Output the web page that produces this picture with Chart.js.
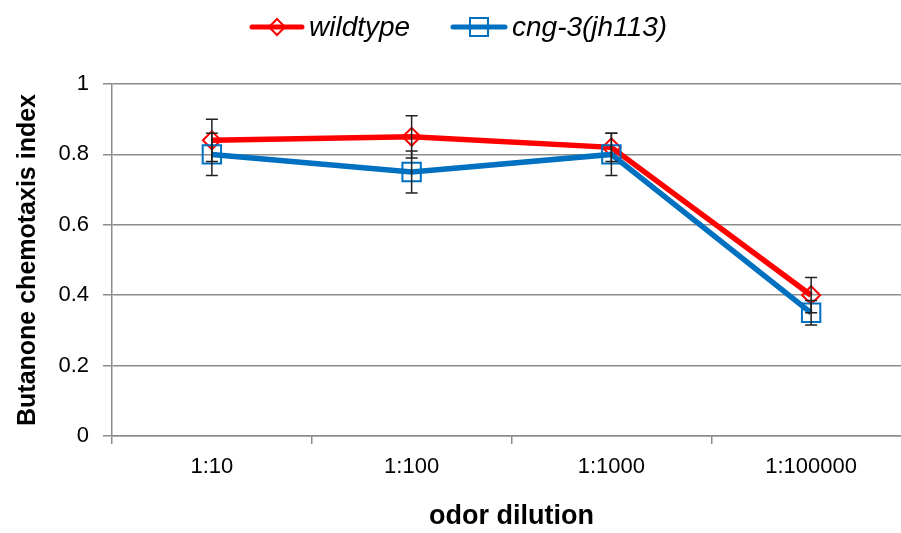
<!DOCTYPE html>
<html>
<head>
<meta charset="utf-8">
<script src="https://cdn.jsdelivr.net/npm/chart.js@4/dist/chart.umd.min.js"></script>
<style>
  html, body { margin: 0; padding: 0; background: #fff; overflow: hidden; width: 901px; height: 533px; }
  #wrap { position: relative; width: 926px; height: 533px; }
  #legend { position: absolute; top: 0; left: 0; width: 901px; height: 54px; font-family: "Liberation Sans", Arial, sans-serif; font-style: italic; font-size: 28px; color: #000; }
  #legend .item { position: absolute; top: 10px; display: flex; align-items: center; height: 34px; }
  #legend svg { margin-right: 4px; }
</style>
</head>
<body>
<div id="wrap">
  <canvas id="c" width="926" height="533"></canvas>
  <div id="legend"></div>
</div>
<script>
const categories = ["1:10", "1:100", "1:1000", "1:100000"];
const seriesNames = ["wildtype", "cng-3(jh113)"];
const wildtype = [0.84, 0.85, 0.82, 0.40];
const wildtypeErr = [0.06, 0.06, 0.04, 0.05];
const cng3 = [0.80, 0.75, 0.80, 0.35];
const cng3Err = [0.06, 0.06, 0.06, 0.035];
const yTicks = [0, 0.2, 0.4, 0.6, 0.8, 1];

const RED = "#FF0000", BLUE = "#0070C0", GRID = "#8C8C8C";

const errorBars = {
  id: "errorBars",
  afterDatasetsDraw(chart) {
    const ctx = chart.ctx, y = chart.scales.y;
    const errs = [wildtypeErr, cng3Err];
    ctx.save();
    ctx.strokeStyle = "#222";
    ctx.lineWidth = 1.5;
    chart.data.datasets.forEach((ds, di) => {
      const meta = chart.getDatasetMeta(di);
      meta.data.forEach((pt, i) => {
        const v = ds.data[i], e = errs[di][i];
        const x = pt.x, y1 = y.getPixelForValue(v + e), y2 = y.getPixelForValue(v - e);
        ctx.beginPath();
        ctx.moveTo(x, y1); ctx.lineTo(x, y2);
        ctx.moveTo(x - 6, y1); ctx.lineTo(x + 6, y1);
        ctx.moveTo(x - 6, y2); ctx.lineTo(x + 6, y2);
        ctx.stroke();
      });
    });
    ctx.restore();
  }
};

new Chart(document.getElementById("c"), {
  type: "line",
  data: {
    labels: categories,
    datasets: [
      { label: seriesNames[0], data: wildtype, borderColor: RED, backgroundColor: "rgba(0,0,0,0)", borderWidth: 5.5,
        pointStyle: "rectRot", pointRadius: 9, pointBorderWidth: 2, pointBorderColor: RED, pointBackgroundColor: "rgba(0,0,0,0)", order: 1, tension: 0 },
      { label: seriesNames[1], data: cng3, borderColor: BLUE, backgroundColor: "rgba(0,0,0,0)", borderWidth: 5.5,
        pointStyle: "rect", pointRadius: 13, pointBorderWidth: 2, pointBorderColor: BLUE, pointBackgroundColor: "rgba(0,0,0,0)", order: 0, tension: 0 }
    ]
  },
  options: {
    responsive: false,
    animation: false,
    layout: { padding: { top: 84, right: 8, left: 0, bottom: 0 } },
    plugins: { legend: { display: false }, tooltip: { enabled: false } },
    scales: {
      x: {
        offset: true,
        afterFit(s) { s.height = 97; },
        grid: { offset: true, drawOnChartArea: false, drawTicks: true, tickLength: 8, color: GRID, lineWidth: 1.5 },
        border: { display: true, color: GRID, width: 1.5 },
        ticks: { color: "#000", font: { family: "Liberation Sans", size: 22 }, padding: 10, maxRotation: 0 },
        title: { display: true, text: "odor dilution", color: "#000", font: { family: "Liberation Sans", size: 27, weight: "bold" }, padding: { top: 0, bottom: 0 } }
      },
      y: {
        min: 0, max: 1,
        afterFit(s) { s.width = 112; },
        afterBuildTicks(s) { s.ticks = yTicks.map(v => ({ value: v })); },
        grid: { color: GRID, lineWidth: 1.5, drawTicks: true, tickLength: 9 },
        border: { display: true, color: GRID, width: 1.5 },
        ticks: { color: "#000", font: { family: "Liberation Sans", size: 22 }, padding: 14,
                 callback: v => String(Math.round(v * 10) / 10) },
        title: { display: true, text: "Butanone chemotaxis index", color: "#000", font: { family: "Liberation Sans", size: 25, weight: "bold" }, padding: { top: 13, bottom: 0 } }
      }
    }
  },
  plugins: [errorBars]
});

// HTML legend
const legend = document.getElementById("legend");
const icons = [
  `<svg width="56" height="24"><line x1="3" y1="12" x2="53" y2="12" stroke="${RED}" stroke-width="5" stroke-linecap="round"/><polygon points="28,4 36,12 28,20 20,12" fill="none" stroke="${RED}" stroke-width="2"/></svg>`,
  `<svg width="58" height="24"><line x1="3" y1="12" x2="55" y2="12" stroke="${BLUE}" stroke-width="5" stroke-linecap="round"/><rect x="20" y="3" width="18" height="18" fill="none" stroke="${BLUE}" stroke-width="2"/></svg>`
];
const lefts = [249, 450];
seriesNames.forEach((n, i) => {
  const d = document.createElement("div");
  d.className = "item";
  d.style.left = lefts[i] + "px";
  d.innerHTML = icons[i] + `<span>${n}</span>`;
  legend.appendChild(d);
});
</script>
</body>
</html>
